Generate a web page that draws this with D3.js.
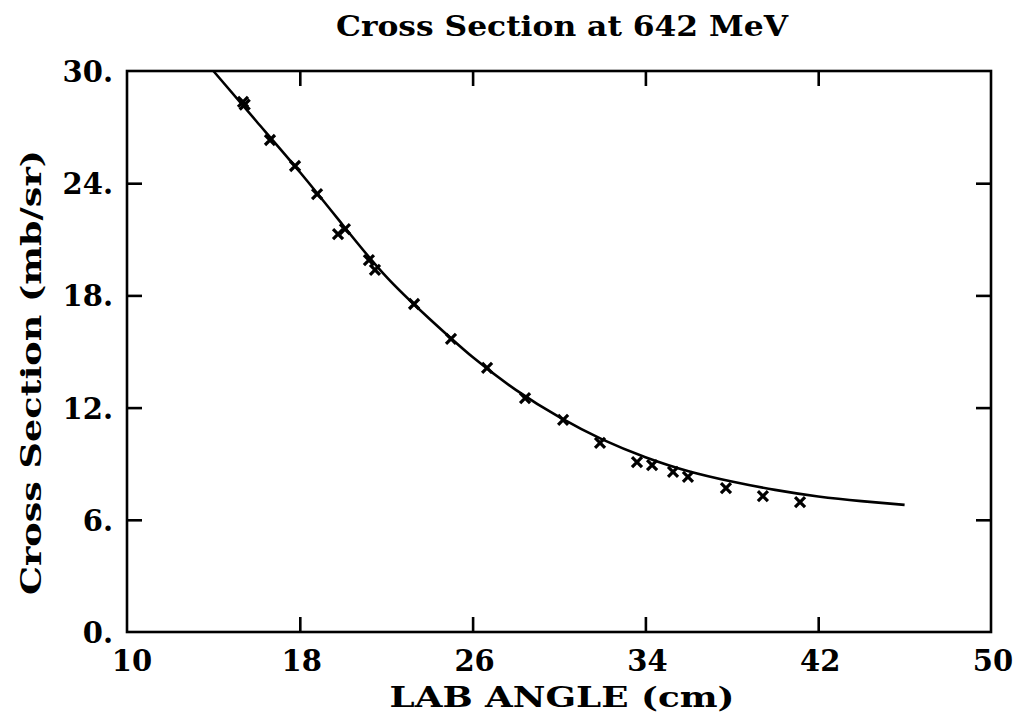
<!DOCTYPE html>
<html>
<head>
<meta charset="utf-8">
<script src="https://cdn.jsdelivr.net/npm/d3@7"></script>
<style>
  html, body { margin: 0; padding: 0; background: #fff; }
  svg { display: block; }
  text { font-family: "DejaVu Serif", serif; font-weight: bold; fill: #000; }
</style>
</head>
<body>
<script>
// ---- data ----
const title = "Cross Section at 642 MeV";
const xLabel = "LAB ANGLE (cm)";
const yLabel = "Cross Section (mb/sr)";
const xTicks = [10, 18, 26, 34, 42, 50];
const yTicks = [0, 6, 12, 18, 24, 30];
const yTickLabels = ["0.", "6.", "12.", "18.", "24.", "30."];

const pointX = [15.37, 15.45, 16.62, 17.78, 18.80, 19.77, 20.09, 21.20, 21.48, 23.29, 25.0,
                26.67, 28.43, 30.19, 31.9, 33.61, 34.31, 35.28, 35.97, 37.73, 39.44, 41.16];
const pointY = [28.35, 28.2, 26.31, 24.92, 23.42, 21.28, 21.55, 19.89, 19.36, 17.54, 15.67,
                14.12, 12.51, 11.34, 10.11, 9.09, 8.93, 8.56, 8.29, 7.70, 7.27, 6.95];

const curveX = [14.0, 16.0, 18.0, 20.0, 22.0, 24.0, 26.0, 28.0, 30.0, 32.0,
                34.0, 36.0, 38.0, 40.0, 42.0, 44.0, 46.0];
const curveY = [30.0, 27.3, 24.6, 21.75, 19.0, 16.75, 14.7, 12.95, 11.5, 10.3,
                9.35, 8.6, 8.05, 7.6, 7.25, 7.0, 6.8];

// ---- layout ----
const W = 1017, H = 720;
const L = 127, R = 991, T = 71, B = 632;

const svg = d3.select("body").append("svg").attr("width", W).attr("height", H);

const x = d3.scaleLinear().domain([10, 50]).range([L, R]);
const y = d3.scaleLinear().domain([0, 30]).range([B, T]);

const tickLen = 15;
const lw = 2.6;

// frame
svg.append("rect")
  .attr("x", L).attr("y", T).attr("width", R - L).attr("height", B - T)
  .attr("fill", "none").attr("stroke", "#000").attr("stroke-width", lw);

// axes with inward ticks
const innerX = xTicks.filter(v => v > 10 && v < 50);
const innerY = yTicks.filter(v => v > 0 && v < 30);

function styleAxis(g) {
  g.select(".domain").remove();
  g.selectAll(".tick line").attr("stroke", "#000").attr("stroke-width", lw);
  g.selectAll(".tick text").remove();
}

svg.append("g").attr("transform", `translate(0,${B})`)
  .call(d3.axisTop(x).tickValues(innerX).tickSize(tickLen)).call(styleAxis);
svg.append("g").attr("transform", `translate(0,${T})`)
  .call(d3.axisBottom(x).tickValues(innerX).tickSize(tickLen)).call(styleAxis);
svg.append("g").attr("transform", `translate(${L},0)`)
  .call(d3.axisRight(y).tickValues(innerY).tickSize(tickLen)).call(styleAxis);
svg.append("g").attr("transform", `translate(${R},0)`)
  .call(d3.axisLeft(y).tickValues(innerY).tickSize(tickLen)).call(styleAxis);

// tick labels
svg.append("g").selectAll("text").data(xTicks).join("text")
  .attr("x", d => x(d) + (d === 10 ? 5 : 2))
  .attr("y", 671)
  .attr("text-anchor", "middle")
  .attr("font-size", 29)
  .text(d => d);

svg.append("g").selectAll("text").data(yTicks).join("text")
  .attr("x", 113)
  .attr("y", d => y(d) + 11)
  .attr("text-anchor", "end")
  .attr("font-size", 29)
  .text((d, i) => yTickLabels[i]);

// title and axis labels
svg.append("text")
  .attr("x", 562).attr("y", 36)
  .attr("text-anchor", "middle")
  .attr("font-size", 28)
  .attr("textLength", 452).attr("lengthAdjust", "spacingAndGlyphs")
  .text(title);

svg.append("text")
  .attr("x", 562).attr("y", 707)
  .attr("text-anchor", "middle")
  .attr("font-size", 27)
  .attr("textLength", 345).attr("lengthAdjust", "spacingAndGlyphs")
  .text(xLabel);

svg.append("text")
  .attr("transform", `translate(41,${(595 + 150) / 2}) rotate(-90)`)
  .attr("text-anchor", "middle")
  .attr("font-size", 28)
  .attr("textLength", 445).attr("lengthAdjust", "spacingAndGlyphs")
  .text(yLabel);

// fitted curve
const curveData = curveX.map((v, i) => [v, curveY[i]]);
svg.append("path")
  .datum(curveData)
  .attr("fill", "none")
  .attr("stroke", "#000")
  .attr("stroke-width", 2.6)
  .attr("d", d3.line().x(d => x(d[0])).y(d => y(d[1])).curve(d3.curveNatural));

// data points as crosses
const pts = pointX.map((v, i) => [v, pointY[i]]);
const s = 5;
svg.append("g").selectAll("path").data(pts).join("path")
  .attr("transform", d => `translate(${x(d[0])},${y(d[1])})`)
  .attr("d", `M${-s},${-s}L${s},${s}M${-s},${s}L${s},${-s}`)
  .attr("stroke", "#000")
  .attr("stroke-width", 3.2)
  .attr("fill", "none");
</script>
</body>
</html>
